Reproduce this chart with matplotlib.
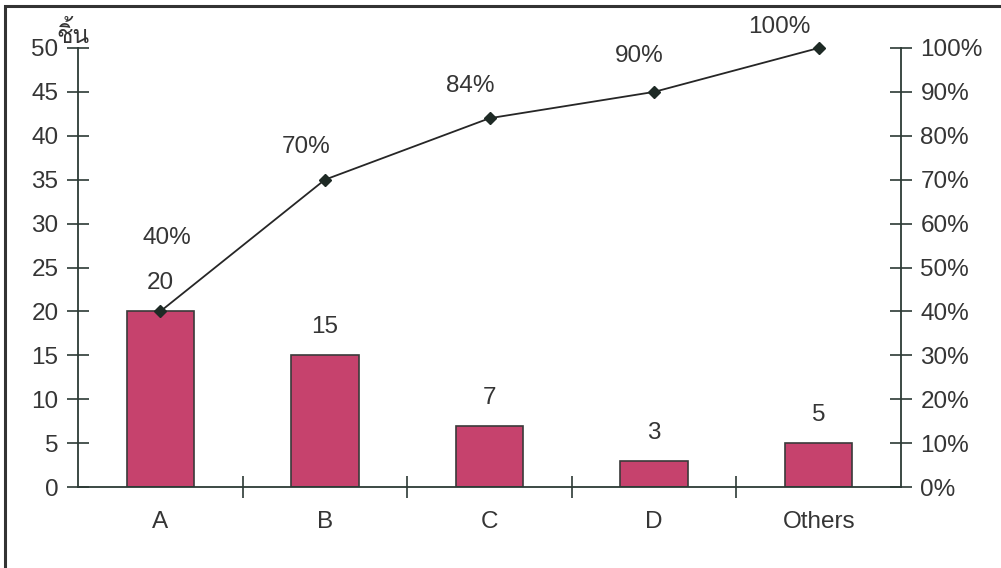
import matplotlib
matplotlib.use("Agg")
import matplotlib.pyplot as plt
from matplotlib import font_manager
from matplotlib.ft2font import FT2Font
from matplotlib.patches import Rectangle
from matplotlib.ticker import FixedLocator

categories = ['A', 'B', 'C', 'D', 'Others']
counts = [20, 15, 7, 3, 5]
cum_pct = [40, 70, 84, 90, 100]
left_ticks = [0, 5, 10, 15, 20, 25, 30, 35, 40, 45, 50]
right_ticks = [0, 10, 20, 30, 40, 50, 60, 70, 80, 90, 100]
unit_label = 'ชิ้น'


def find_family(codepoint):
    # first installed font that actually has the glyph
    for f in font_manager.fontManager.ttflist:
        try:
            if codepoint in FT2Font(f.fname).get_charmap():
                return f.name
        except Exception:
            pass
    return None


thai_family = find_family(ord('ช'))

plt.rcParams['font.family'] = ['Liberation Sans', 'DejaVu Sans']
text_color = '#353535'
axis_color = '#2c3a35'
bar_color = '#c6426d'
fs = 17.5

W, H = 1001, 568
fig = plt.figure(figsize=(W / 100, H / 100), dpi=100)
fig.patch.set_facecolor('white')

# axes box in pixel terms: spine x 78..901, y 48..487
ax = fig.add_axes([78 / W, (H - 487) / H, (901 - 78) / W, (487 - 48) / H])
ax.set_facecolor('none')

x = range(len(categories))
ax.bar(x, counts, width=0.41, color=bar_color, edgecolor='#3a3a3a', linewidth=1.2, zorder=2)
for xi, c in zip(x, counts):
    ax.annotate(str(c), (xi, c), xytext=(0, 28), textcoords='offset pixels',
                ha='center', va='center', fontsize=fs, color=text_color)

ax.set_xlim(-0.5, len(categories) - 0.5)
ax.set_ylim(0, 50)
ax.set_yticks(left_ticks)
ax.set_xticks(list(x))
ax.set_xticklabels(categories)
ax.xaxis.set_minor_locator(FixedLocator([0.5, 1.5, 2.5, 3.5]))
ax.tick_params(axis='x', which='major', length=0, pad=17, labelsize=fs, labelcolor=text_color)
ax.tick_params(axis='x', which='minor', direction='inout', length=16, width=1.2, color=axis_color)
ax.tick_params(axis='y', direction='inout', length=16, width=1.2, color=axis_color,
               labelsize=fs, labelcolor=text_color, pad=6)
for s in ['top', 'right']:
    ax.spines[s].set_visible(False)
for s in ['left', 'bottom']:
    ax.spines[s].set_color(axis_color)
    ax.spines[s].set_linewidth(1.3)

# cumulative percentage on the right axis
ax2 = ax.twinx()
ax2.set_ylim(0, 100)
ax2.set_yticks(right_ticks)
ax2.set_yticklabels([f'{t}%' for t in right_ticks])
ax2.tick_params(axis='y', direction='inout', length=16, width=1.2, color=axis_color,
                labelsize=fs, labelcolor=text_color, pad=6)
for s in ['top', 'left', 'bottom']:
    ax2.spines[s].set_visible(False)
ax2.spines['right'].set_color(axis_color)
ax2.spines['right'].set_linewidth(1.3)

ax2.plot(list(x), cum_pct, color='#262626', linewidth=1.3, marker='D',
         markersize=6.5, markerfacecolor='#1e2a25', markeredgecolor='#1e2a25',
         zorder=3, clip_on=False)
pct_offsets = [(7, 73), (-19, 33), (-19, 32), (-15, 36), (-39, 21)]
for xi, p, off in zip(x, cum_pct, pct_offsets):
    ax2.annotate(f'{p}%', (xi, p), xytext=off, textcoords='offset pixels',
                 ha='center', va='center', fontsize=fs, color=text_color)

# unit label above the left axis
fam = [thai_family, 'DejaVu Sans'] if thai_family else ['DejaVu Sans']
fig.text(56 / W, (H - 43) / H, unit_label, family=fam, fontsize=fs,
         color=text_color, ha='left', va='baseline')

# outer frame
fig.patches.append(Rectangle((5 / W, -0.1), 1.2, 1.1 - 6 / H, transform=fig.transFigure,
                             fill=False, edgecolor='#333333', linewidth=2.2))

fig.savefig('out.png', dpi=100)
